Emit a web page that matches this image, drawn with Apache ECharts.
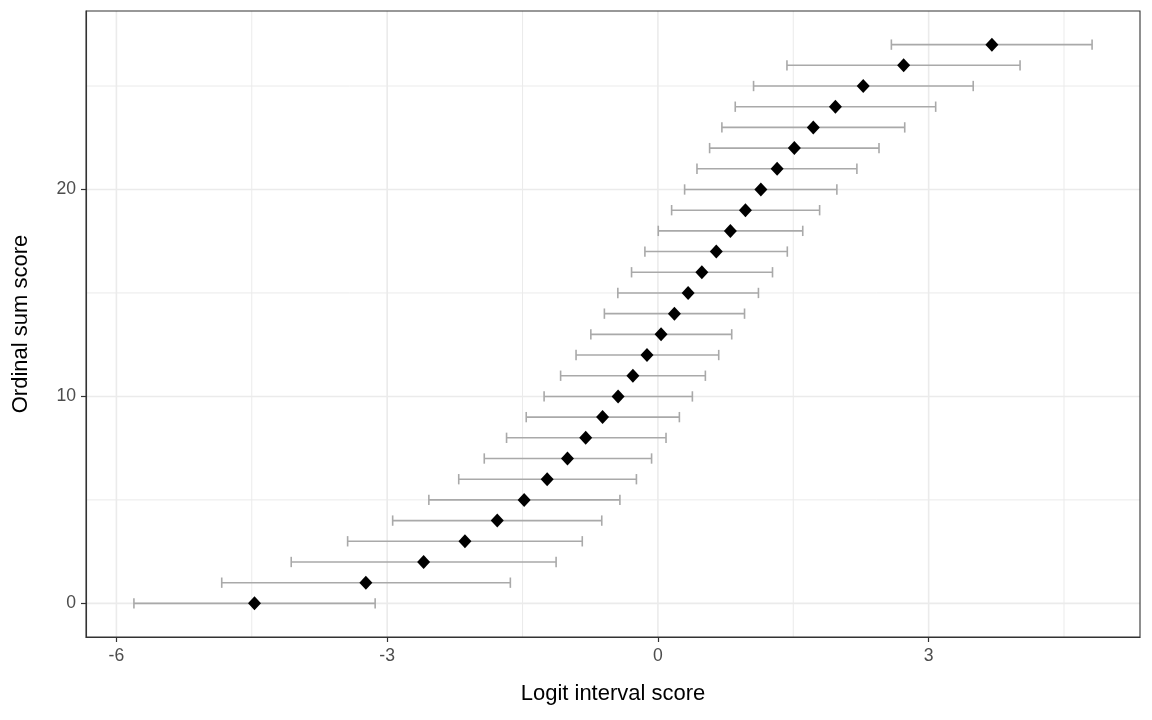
<!DOCTYPE html>
<html>
<head>
<meta charset="utf-8">
<script src="https://cdn.jsdelivr.net/npm/echarts@6/dist/echarts.min.js"></script>
<style>
html,body{margin:0;padding:0;background:#fff;}
#chart{width:1152px;height:720px;}
</style>
</head>
<body>
<div id="chart"></div>
<script>
// Data
const sumScores = [0,1,2,3,4,5,6,7,8,9,10,11,12,13,14,15,16,17,18,19,20,21,22,23,24,25,26,27];
const logitScores = [-4.47,-3.236,-2.596,-2.138,-1.780,-1.482,-1.227,-1.002,-0.800,-0.613,-0.441,-0.277,-0.121,0.035,0.183,0.335,0.487,0.647,0.803,0.970,1.141,1.321,1.512,1.722,1.967,2.275,2.723,3.701];
const lowerCI = [-5.806,-4.833,-4.063,-3.438,-2.939,-2.538,-2.207,-1.924,-1.677,-1.459,-1.261,-1.078,-0.907,-0.743,-0.593,-0.444,-0.292,-0.144,0.004,0.152,0.296,0.433,0.573,0.709,0.857,1.060,1.430,2.587];
const upperCI = [-3.133,-1.635,-1.128,-0.838,-0.622,-0.421,-0.238,-0.070,0.090,0.238,0.382,0.526,0.674,0.818,0.960,1.114,1.270,1.434,1.605,1.792,1.983,2.205,2.450,2.735,3.078,3.494,4.013,4.811];
const xTicks = [-6,-3,0,3];
const xMinorTicks = [-4.5,-1.5,1.5,4.5];
const yTicks = [0,10,20];
const yMinorTicks = [5,15,25];
const xTitle = 'Logit interval score';
const yTitle = 'Ordinal sum score';

const capHalf = 0.25;
const xMin = -6.337, xMax = 5.342, yMin = -1.625, yMax = 28.625;

const pointData = sumScores.map((s,i)=>[logitScores[i], s]);
const barData = sumScores.map((s,i)=>[lowerCI[i], upperCI[i], s]);

function vGridSeries(values, width){
  return {
    type:'custom', z:0, silent:true, data:values.map(v=>[v]),
    renderItem:function(params, api){
      const v = api.value(0);
      const a = api.coord([v, yMin]), b = api.coord([v, yMax]);
      return {type:'line', shape:{x1:a[0], y1:a[1], x2:b[0], y2:b[1]}, style:{stroke:'#EBEBEB', lineWidth:width}};
    }
  };
}
function hGridSeries(values, width){
  return {
    type:'custom', z:0, silent:true, data:values.map(v=>[xMin, v]),
    renderItem:function(params, api){
      const v = api.value(1);
      const a = api.coord([xMin, v]), b = api.coord([xMax, v]);
      return {type:'line', shape:{x1:a[0], y1:a[1], x2:b[0], y2:b[1]}, style:{stroke:'#EBEBEB', lineWidth:width}};
    }
  };
}

const chart = echarts.init(document.getElementById('chart'), null, {renderer:'canvas'});
chart.setOption({
  animation:false,
  backgroundColor:'#ffffff',
  textStyle:{fontFamily:'"Liberation Sans", Arial, sans-serif'},
  grid:{left:86, right:12, top:11, bottom:83, show:true, borderColor:'#333333', borderWidth:1.1, backgroundColor:'transparent', z:3},
  xAxis:{
    type:'value', min:xMin, max:xMax,
    name:xTitle, nameLocation:'middle', nameGap:46,
    nameTextStyle:{fontSize:22, color:'#000000', fontFamily:'"Liberation Sans", Arial, sans-serif'},
    axisLine:{show:true, onZero:false, lineStyle:{color:'#333333', width:1.1}},
    axisTick:{show:true, inside:false, length:5, customValues:xTicks, lineStyle:{color:'#333333', width:1.2}},
    axisLabel:{customValues:xTicks, fontSize:17.6, color:'#4D4D4D', margin:10},
    splitLine:{show:false}
  },
  yAxis:{
    type:'value', min:yMin, max:yMax,
    name:yTitle, nameLocation:'middle', nameGap:54, nameRotate:90,
    nameTextStyle:{fontSize:22, color:'#000000', fontFamily:'"Liberation Sans", Arial, sans-serif'},
    axisLine:{show:true, onZero:false, lineStyle:{color:'#333333', width:1.1}},
    axisTick:{show:true, inside:false, length:5, customValues:yTicks, lineStyle:{color:'#333333', width:1.2}},
    axisLabel:{customValues:yTicks, fontSize:17.6, color:'#4D4D4D', margin:10},
    splitLine:{show:false}
  },
  series:[
    vGridSeries(xMinorTicks, 1),
    hGridSeries(yMinorTicks, 1),
    vGridSeries(xTicks, 1.6),
    hGridSeries(yTicks, 1.6),
    {
      type:'custom', z:2, silent:true,
      data:barData,
      renderItem:function(params, api){
        const lo = api.value(0), hi = api.value(1), y = api.value(2);
        const pL = api.coord([lo, y]);
        const pH = api.coord([hi, y]);
        const pLt = api.coord([lo, y+capHalf]);
        const pLb = api.coord([lo, y-capHalf]);
        const pHt = api.coord([hi, y+capHalf]);
        const pHb = api.coord([hi, y-capHalf]);
        const style = {stroke:'#A9A9A9', lineWidth:1.6};
        return {type:'group', children:[
          {type:'line', shape:{x1:pL[0], y1:pL[1], x2:pH[0], y2:pH[1]}, style:style},
          {type:'line', shape:{x1:pLt[0], y1:pLt[1], x2:pLb[0], y2:pLb[1]}, style:style},
          {type:'line', shape:{x1:pHt[0], y1:pHt[1], x2:pHb[0], y2:pHb[1]}, style:style}
        ]};
      }
    },
    {
      type:'scatter', z:4, silent:true,
      data:pointData,
      symbol:'diamond', symbolSize:[13,14],
      itemStyle:{color:'#000000', opacity:1}
    }
  ]
});
</script>
</body>
</html>
